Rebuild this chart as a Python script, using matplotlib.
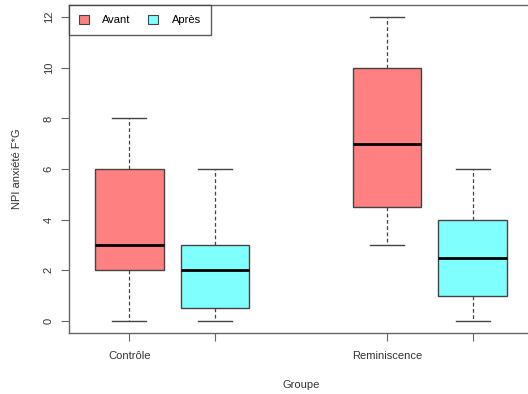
import matplotlib.pyplot as plt
from matplotlib.patches import Patch

plt.rcParams["font.family"] = ["Liberation Sans", "DejaVu Sans"]

# ===================== 数据 =====================
groups = ["Contrôle", "Reminiscence"]
periods = ["Avant", "Après"]
positions = [1, 2, 4, 5]
whislo = [0, 0, 3, 0]
q1 = [2, 0.5, 4.5, 1]
med = [3, 2, 7, 2.5]
q3 = [6, 3, 10, 4]
whishi = [8, 6, 12, 6]
colors = ["#FF8080", "#80FFFF"]

stats = [
    {"whislo": lo, "q1": a, "med": m, "q3": b, "whishi": hi, "fliers": []}
    for lo, a, m, b, hi in zip(whislo, q1, med, q3, whishi)
]

fig = plt.figure(figsize=(5.28, 3.94), dpi=100)
ax = fig.add_axes([69 / 528, 61 / 394, 464 / 528, 328 / 394])

edge = "#444444"
bp = ax.bxp(
    stats, positions=positions, widths=0.8, capwidths=0.4,
    patch_artist=True, showfliers=False,
    boxprops=dict(edgecolor=edge, linewidth=1),
    medianprops=dict(color="black", linewidth=2),
    whiskerprops=dict(color=edge, linestyle=(0, (3, 2)), linewidth=0.9),
    capprops=dict(color=edge, linewidth=1),
)
for i, box in enumerate(bp["boxes"]):
    box.set_facecolor(colors[i % 2])

ax.set_xlim(0.3, 5.7)
ax.set_ylim(-0.48, 12.48)
ax.set_xticks(positions)
ax.set_xticklabels([groups[0], "", groups[1], ""], fontsize=8, color="#333333")
ax.set_yticks(range(0, 13, 2))
ax.set_yticklabels([str(v) for v in range(0, 13, 2)], rotation=90, va="center",
                   fontsize=8, color="#333333")
ax.tick_params(length=6, color="#666666", pad=5)
ax.tick_params(axis="x", pad=7)
for s in ax.spines.values():
    s.set_color("#666666")
    s.set_linewidth(1)

ax.set_xlabel("Groupe", fontsize=8, color="#333333", labelpad=14)
ax.set_ylabel("NPI anxiété F*G", fontsize=8, color="#333333", labelpad=16)

handles = [Patch(facecolor=c, edgecolor=edge, linewidth=0.8) for c in colors]
leg = ax.legend(handles, periods, loc="upper left", ncol=2, fontsize=8,
                frameon=True, fancybox=False, borderaxespad=0,
                handlelength=0.9, handleheight=0.9, handletextpad=1.2,
                columnspacing=1.6, borderpad=0.9)
leg.get_frame().set_edgecolor("#333333")
leg.get_frame().set_linewidth(1)

fig.savefig("out.png", dpi=100)
